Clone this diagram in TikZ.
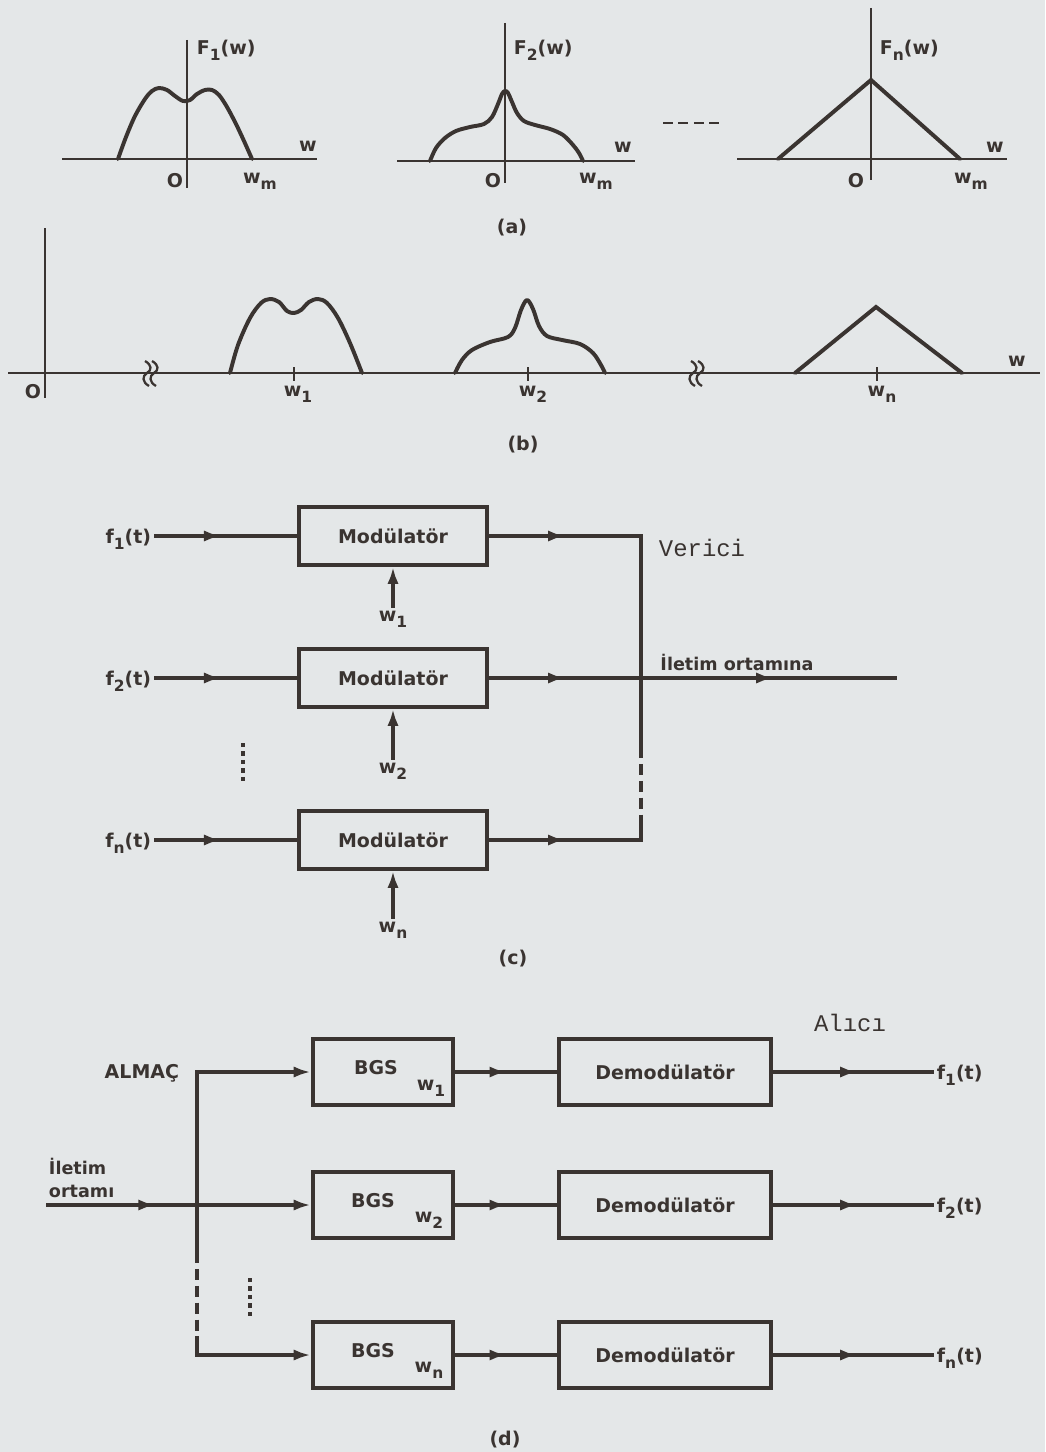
\documentclass[tikz,border=0pt]{standalone}
\usepackage{fontspec}
\setmainfont{DejaVu Sans}
\newfontfamily\typefont{Liberation Mono}
\usepackage{tikz}
\usetikzlibrary{arrows.meta, positioning, decorations.markings}
\definecolor{ink}{HTML}{3A3431}
\definecolor{paper}{HTML}{E4E7E8}
\newcommand{\lsub}[1]{\raisebox{-0.55ex}{\fontsize{11}{11}\selectfont #1}}

\begin{document}
\begin{tikzpicture}[
    x=0.025cm, y=-0.025cm,
    every node/.style={text=ink, font=\bfseries\fontsize{13.5}{16}\selectfont},
    block/.style={draw=ink, line width=2.8pt, inner sep=0pt},
    modbox/.style={block, minimum width=4.7cm, minimum height=1.45cm},
    bgsbox/.style={block, minimum width=3.52cm, minimum height=1.65cm},
    dembox/.style={block, minimum width=5.28cm, minimum height=1.65cm},
    wire/.style={draw=ink, line width=2.4pt, line cap=rect},
    axisline/.style={draw=ink, line width=1.8pt},
    curve/.style={draw=ink, line width=2.8pt, line join=round, line cap=round},
    midarrow/.style={wire, postaction={decorate}, decoration={markings, mark=at position #1 with {\arrow{Latex[length=12pt, width=8pt]}}}},
    endarrow/.style={wire, -{Latex[length=12pt, width=8pt]}},
    vdots/.style={draw=ink, line width=2.8pt, dash pattern=on 3pt off 3pt},
    busdash/.style={draw=ink, line width=2.4pt, dash pattern=on 8pt off 4pt},
    typed/.style={font=\typefont\fontsize{17}{19}\selectfont},
  ]
  \useasboundingbox (0,0) rectangle (1045,1452);
  \fill[paper] (0,0) rectangle (1045,1452);

  % (a) spectra of the signals
  \draw[axisline] (62,159) -- (317,159);
  \draw[axisline] (187,40) -- (187,188);
  \draw[curve] plot[smooth, tension=0.55] coordinates {(118,159) (126,137) (135,116) (145,99) (152,91) (159,88) (167,90) (175,96) (183,101) (190,100) (197,94) (205,90) (212,90) (219,95) (227,107) (236,124) (244,141) (252,159)};
  \node[anchor=west] (F1) at (192,50) {F\lsub{1}(w)};
  \node (wa1) at (308,146) {w};
  \node (Oa1) at (175,181) {O};
  \node (wm1) at (260,181) {w\lsub{m}};

  \draw[axisline] (397,161) -- (635,161);
  \draw[axisline] (505,23) -- (505,183);
  \draw[curve] plot[smooth, tension=0.55] coordinates {(430,161) (436,148) (445,138) (456,131) (470,127) (484,124) (492,117) (498,104) (502,94) (505,91) (508,93) (512,102) (517,113) (524,121) (535,125) (550,129) (563,135) (573,145) (579,153) (583,161)};
  \node[anchor=west] (F2) at (509,50) {F\lsub{2}(w)};
  \node (wa2) at (623,147) {w};
  \node (Oa2) at (493,181) {O};
  \node (wm2) at (596,181) {w\lsub{m}};

  \draw[ink, line width=2pt, dash pattern=on 7pt off 4pt] (663,123) -- (723,123);

  \draw[axisline] (737,159) -- (1007,159);
  \draw[axisline] (871,8) -- (871,180);
  \draw[curve, line join=miter] (778,159) -- (871,80) -- (960,159);
  \node[anchor=west] (Fn) at (875,50) {F\lsub{n}(w)};
  \node (wa3) at (995,147) {w};
  \node (Oa3) at (856,181) {O};
  \node (wm3) at (971,181) {w\lsub{m}};

  \node (capa) at (512,228) {(a)};

  % (b) shifted spectra
  \draw[axisline] (8,373) -- (1040,373);
  \draw[axisline] (45,228) -- (45,398);
  \node (Ob) at (33,392) {O};
  \foreach \bx in {147,693} {
    \foreach \dx in {0,7} {
      \draw[ink, line width=1.6pt] ({\bx+\dx-2},361) .. controls ({\bx+\dx+5},365) and ({\bx+\dx+5},370) .. ({\bx+\dx},373) .. controls ({\bx+\dx-5},376) and ({\bx+\dx-5},382) .. ({\bx+\dx+2},386);
    }
  }
  \draw[curve] plot[smooth, tension=0.55] coordinates {(230,373) (238,345) (250,318) (261,303) (270,299) (279,302) (287,311) (294,313) (301,310) (309,302) (318,299) (327,303) (338,318) (350,343) (362,373)};
  \draw[curve] plot[smooth, tension=0.55] coordinates {(455,373) (462,360) (472,350) (490,342) (508,337) (515,328) (521,310) (527,300) (533,309) (539,326) (547,336) (562,340) (580,344) (593,353) (601,365) (605,373)};
  \draw[curve, line join=miter] (795,373) -- (876,307) -- (962,373);
  \draw[axisline] (294,367) -- (294,381);
  \draw[axisline] (528,367) -- (528,381);
  \draw[axisline] (877,367) -- (877,381);
  \node[anchor=north] (wb1) at (298,381) {w\lsub{1}};
  \node[anchor=north] (wb2) at (533,381) {w\lsub{2}};
  \node[anchor=north] (wbn) at (882,381) {w\lsub{n}};
  \node (wbx) at (1017,361) {w};
  \node (capb) at (523,445) {(b)};

  % (c) verici
  \node[modbox] (mod1) at (393,536) {Modülatör};
  \node[modbox] (mod2) at (393,678) {Modülatör};
  \node[modbox] (mod3) at (393,840) {Modülatör};

  \node[anchor=east] (f1) at (156,539) {f\lsub{1}(t)};
  \node[anchor=east] (f2) at (156,681) {f\lsub{2}(t)};
  \node[anchor=east] (fn) at (156,843) {f\lsub{n}(t)};
  \draw[midarrow=0.46] (f1.east |- mod1) -- (mod1);
  \draw[midarrow=0.46] (f2.east |- mod2) -- (mod2);
  \draw[midarrow=0.46] (fn.east |- mod3) -- (mod3);

  \coordinate (car1) at (393,606);
  \coordinate (car2) at (393,758);
  \coordinate (car3) at (393,917);
  \node[below=0pt of car1] (w1) {w\lsub{1}};
  \node[below=0pt of car2] (w2) {w\lsub{2}};
  \node[below=0pt of car3] (wn) {w\lsub{n}};
  \draw[endarrow] (car1) -- (mod1);
  \draw[endarrow] (car2) -- (mod2);
  \draw[endarrow] (car3) -- (mod3);

  \draw[vdots] (243,743) -- (243,782);

  \coordinate (bus1) at (641,536);
  \coordinate (bus2) at (641,678);
  \coordinate (bus3) at (641,840);
  \coordinate (gapA) at (641,747);
  \coordinate (gapB) at (641,827);
  \coordinate (outc) at (895,678);
  \draw[midarrow=0.5] (mod1) -- (bus1);
  \draw[midarrow=0.5] (mod2) -- (bus2);
  \draw[midarrow=0.5] (mod3) -- (bus3);
  \draw[wire] (bus1) -- (gapA);
  \draw[busdash] (gapA) -- (gapB);
  \draw[wire] (gapB) -- (bus3);
  \draw[midarrow=0.52] (bus2) -- (outc);
  \node[font=\bfseries\fontsize{12.5}{15}\selectfont] (iletim) at (737,662) {İletim ortamına};
  \node[typed] (verici) at (702,548) {Verici};
  \node (capc) at (513,959) {(c)};

  % (d) alici
  \node[bgsbox] (bgs1) at (383,1072) {};
  \node[bgsbox] (bgs2) at (383,1205) {};
  \node[bgsbox] (bgsn) at (383,1355) {};
  \node (bl1) at (376,1068) {BGS};
  \node (bl2) at (373,1201) {BGS};
  \node (bln) at (373,1351) {BGS};
  \node (bw1) at (431,1088) {w\lsub{1}};
  \node (bw2) at (429,1220) {w\lsub{2}};
  \node (bwn) at (429,1370) {w\lsub{n}};

  \node[dembox] (dem1) at (665,1072) {Demodülatör};
  \node[dembox] (dem2) at (665,1205) {Demodülatör};
  \node[dembox] (demn) at (665,1355) {Demodülatör};
  \draw[midarrow=0.5] (bgs1) -- (dem1);
  \draw[midarrow=0.5] (bgs2) -- (dem2);
  \draw[midarrow=0.5] (bgsn) -- (demn);

  \node[anchor=west] (g1) at (932,1075) {f\lsub{1}(t)};
  \node[anchor=west] (g2) at (932,1208) {f\lsub{2}(t)};
  \node[anchor=west] (gn) at (932,1358) {f\lsub{n}(t)};
  \draw[midarrow=0.53] (dem1) -- (g1.west |- dem1);
  \draw[midarrow=0.53] (dem2) -- (g2.west |- dem2);
  \draw[midarrow=0.53] (demn) -- (gn.west |- demn);

  \coordinate (tap1) at (197,1072);
  \coordinate (tap2) at (197,1205);
  \coordinate (tap3) at (197,1355);
  \coordinate (gapC) at (197,1252);
  \coordinate (gapD) at (197,1342);
  \coordinate (inp) at (48,1205);
  \draw[endarrow] (tap1) -- (bgs1);
  \draw[endarrow] (tap2) -- (bgs2);
  \draw[endarrow] (tap3) -- (bgsn);
  \draw[wire] (tap1) -- (gapC);
  \draw[busdash] (gapC) -- (gapD);
  \draw[wire] (gapD) -- (tap3);
  \draw[midarrow=0.72] (inp) -- (tap2);

  \node[anchor=east] (almac) at (184,1073) {ALMAÇ};
  \node[anchor=west, align=left, font=\bfseries\fontsize{12.5}{16}\selectfont] (ortam) at (44,1178) {İletim\\ortamı};
  \draw[vdots] (250,1278) -- (250,1318);
  \node[typed] (alici) at (850,1023) {Alıcı};
  \node (capd) at (505,1440) {(d)};
\end{tikzpicture}
\end{document}
